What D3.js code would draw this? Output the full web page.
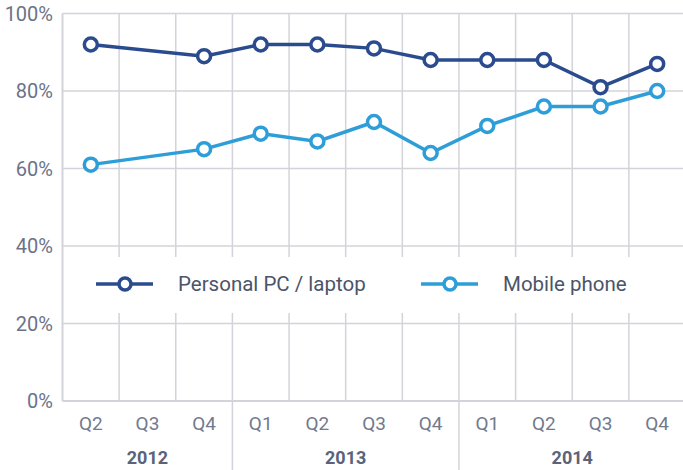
<!DOCTYPE html>
<html>
<head>
<meta charset="utf-8">
<script src="https://cdn.jsdelivr.net/npm/d3@7"></script>
<style>
  body { margin: 0; background: #fff; }
  svg { display: block; font-family: Roboto, "Noto Sans", sans-serif; }
</style>
</head>
<body>
<div id="vis"></div>
<script>
const width = 683
const height = 470

// data
const years = ["2012", "2012", "2012", "2013", "2013", "2013", "2013", "2014", "2014", "2014", "2014"]
const quarters = ["Q2", "Q3", "Q4", "Q1", "Q2", "Q3", "Q4", "Q1", "Q2", "Q3", "Q4"]
const pcLaptop = [92, null, 89, 92, 92, 91, 88, 88, 88, 81, 87]
const mobilePhone = [61, null, 65, 69, 67, 72, 64, 71, 76, 76, 80]
const yTicks = [0, 20, 40, 60, 80, 100]
const seriesNames = ["Personal PC / laptop", "Mobile phone"]
const seriesColors = ["#2b4b8f", "#2e9ed9"]

const gridColor = "#d3d3da"
const keys = years.map((y, i) => y + " " + quarters[i])

var svg = d3.select("#vis")
    .append("svg")
    .attr("width", width)
    .attr("height", height)

var x = d3.scaleBand()
    .domain(keys)
    .range([62.5, 685.5])

var y = d3.scaleLinear()
    .domain([0, 100])
    .range([401, 13.5])

// horizontal grid
svg.append("g")
    .selectAll("line")
    .data(yTicks)
    .join("line")
    .attr("x1", 62.5)
    .attr("x2", width)
    .attr("y1", d => y(d))
    .attr("y2", d => y(d))
    .attr("stroke", gridColor)
    .attr("stroke-width", d => d === 0 ? 2 : 1.5)

// vertical grid (band edges), year boundaries run down to the bottom
const yearStarts = keys.filter((k, i) => i > 0 && years[i] !== years[i - 1])
svg.append("g")
    .selectAll("line")
    .data(keys.slice(1))
    .join("line")
    .attr("x1", d => x(d))
    .attr("x2", d => x(d))
    .attr("y1", y(100))
    .attr("y2", d => yearStarts.includes(d) ? height : y(0))
    .attr("stroke", gridColor)
    .attr("stroke-width", 1.5)

// left axis line
svg.append("line")
    .attr("x1", 62.5).attr("x2", 62.5)
    .attr("y1", y(100)).attr("y2", y(0))
    .attr("stroke", gridColor)
    .attr("stroke-width", 2)

// y labels
svg.append("g")
    .selectAll("text")
    .data(yTicks)
    .join("text")
    .attr("x", 53)
    .attr("y", d => y(d) + 7)
    .attr("text-anchor", "end")
    .attr("font-size", "20px")
    .attr("fill", "#6b7388")
    .text(d => d + "%")

// quarter labels
svg.append("g")
    .selectAll("text")
    .data(keys)
    .join("text")
    .attr("x", d => x(d) + x.bandwidth() / 2)
    .attr("y", 430)
    .attr("text-anchor", "middle")
    .attr("font-size", "19px")
    .attr("fill", "#727a8e")
    .text((d, i) => quarters[i])

// year labels
const yearGroups = d3.groups(keys, k => years[keys.indexOf(k)])
svg.append("g")
    .selectAll("text")
    .data(yearGroups)
    .join("text")
    .attr("x", d => (x(d[1][0]) + x(d[1][d[1].length - 1]) + x.bandwidth()) / 2)
    .attr("y", 464)
    .attr("text-anchor", "middle")
    .attr("font-size", "18px")
    .attr("font-weight", "bold")
    .attr("fill", "#5b6379")
    .text(d => d[0])

// legend background hides the grid
svg.append("rect")
    .attr("x", 64)
    .attr("y", 257)
    .attr("width", width - 64)
    .attr("height", 56)
    .attr("fill", "#fff")

// series
const series = [pcLaptop, mobilePhone].map((vals, s) => ({
    name: seriesNames[s],
    color: seriesColors[s],
    points: vals.map((v, i) => ({ key: keys[i], value: v })).filter(p => p.value != null)
}))

var line = d3.line()
    .x(d => x(d.key) + x.bandwidth() / 2)
    .y(d => y(d.value))

const sg = svg.append("g")
    .selectAll("g")
    .data(series)
    .join("g")

sg.append("path")
    .attr("d", d => line(d.points))
    .attr("fill", "none")
    .attr("stroke", d => d.color)
    .attr("stroke-width", 3.5)

sg.selectAll("circle")
    .data(d => d.points.map(p => ({ ...p, color: d.color })))
    .join("circle")
    .attr("cx", d => x(d.key) + x.bandwidth() / 2)
    .attr("cy", d => y(d.value))
    .attr("r", 6.5)
    .attr("fill", "#fff")
    .attr("stroke", d => d.color)
    .attr("stroke-width", 3.5)

// legend
const legendX = [96, 421]
const lg = svg.append("g")
    .selectAll("g")
    .data(series)
    .join("g")
    .attr("transform", (d, i) => `translate(${legendX[i]},284)`)

lg.append("line")
    .attr("x1", 0).attr("x2", 57)
    .attr("stroke", d => d.color)
    .attr("stroke-width", 3.5)

lg.append("circle")
    .attr("cx", 29)
    .attr("r", 6)
    .attr("fill", "#fff")
    .attr("stroke", d => d.color)
    .attr("stroke-width", 3.5)

lg.append("text")
    .attr("x", 82)
    .attr("y", 7)
    .attr("font-size", "20.5px")
    .attr("fill", "#4b5469")
    .text(d => d.name)
</script>
</body>
</html>
